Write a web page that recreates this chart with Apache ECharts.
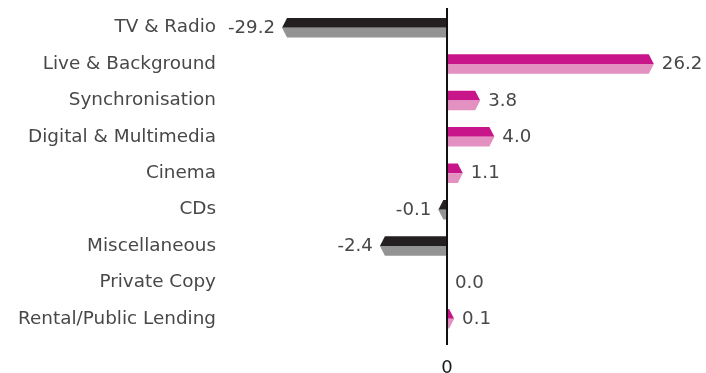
<!DOCTYPE html>
<html><head><meta charset="utf-8">
<script src="https://cdn.jsdelivr.net/npm/echarts@6/dist/echarts.min.js"></script>
<style>html,body{margin:0;padding:0;background:#fff}#c{width:706px;height:373px}</style>
</head><body><div id="c"></div>
<script>
const categories = ['TV & Radio','Live & Background','Synchronisation','Digital & Multimedia','Cinema','CDs','Miscellaneous','Private Copy','Rental/Public Lending'];
// bar lengths as drawn in the picture (relative scale)
const barLength = [-20.9, 26.2, 4.2, 6.0, 2.0, -1.1, -8.5, 0, 0.9];
// value labels printed next to each bar
const labelText = ['-29.2','26.2','3.8','4.0','1.1','-0.1','-2.4','0.0','0.1'];
const xTicks = [0];

const posTop = '#C8168A', posBot = '#E291C0';
const negTop = '#231F20', negBot = '#939394';

const chart = echarts.init(document.getElementById('c'), null, {renderer:'canvas'});
const data = barLength.map((v,i)=>[v,i,labelText[i]]);

chart.setOption({
  animation:false,
  grid:{left:226, right:6.4, top:9.5, bottom:36, containLabel:false, outerBoundsMode:'none'},
  xAxis:{type:'value', min:-28, max:32, interval:28,
    axisLine:{show:false}, axisTick:{show:false}, splitLine:{show:false},
    axisLabel:{margin:22, fontFamily:'DejaVu Sans', fontSize:18, color:'#1a1a1a',
      showMinLabel:true, showMaxLabel:false,
      formatter:v=> xTicks.indexOf(v)>=0 ? String(v) : ''}},
  yAxis:{type:'category', data:categories, inverse:true,
    axisLine:{show:false}, axisTick:{show:false}, splitLine:{show:false},
    axisLabel:{margin:10, fontFamily:'DejaVu Sans', fontSize:18.4, color:'#484848'}},
  series:[{
    type:'custom',
    data:data,
    encode:{x:0,y:1},
    renderItem:function(params, api){
      const v = api.value(0), idx = api.value(1);
      const p0 = api.coord([0, idx]);
      const p1 = api.coord([v, idx]);
      const h = 19.5;
      const yT = p0[1]-h/2, yM = p0[1], yB = p0[1]+h/2;
      const s = v>=0 ? 1 : -1;
      const len = Math.abs(p1[0]-p0[0]);
      const tip = Math.min(5, len);
      const children = [];
      const label = labelText[idx];
      if (len > 0.01) {
        children.push({type:'polygon', shape:{points:[[p0[0],yT],[p1[0]-s*tip,yT],[p1[0],yM],[p0[0],yM]]},
          style:{fill: v>=0?posTop:negTop}});
        children.push({type:'polygon', shape:{points:[[p0[0],yM],[p1[0],yM],[p1[0]-s*tip,yB],[p0[0],yB]]},
          style:{fill: v>=0?posBot:negBot}});
      }
      const neg = label.charAt(0)==='-';
      children.push({type:'text', style:{text:label, x: p1[0] + (neg?-7:8), y:yM+0.5,
        align: neg?'right':'left', verticalAlign:'middle',
        font:'18.2px "DejaVu Sans"', fill:'#484848'}});
      if (idx===0) {
        const cs = params.coordSys;
        children.push({type:'line', shape:{x1:p0[0], y1:cs.y-1.5, x2:p0[0], y2:cs.y+cs.height+8},
          style:{stroke:'#111', lineWidth:2}, z2:10});
      }
      return {type:'group', children:children};
    }
  }]
});
</script></body></html>
